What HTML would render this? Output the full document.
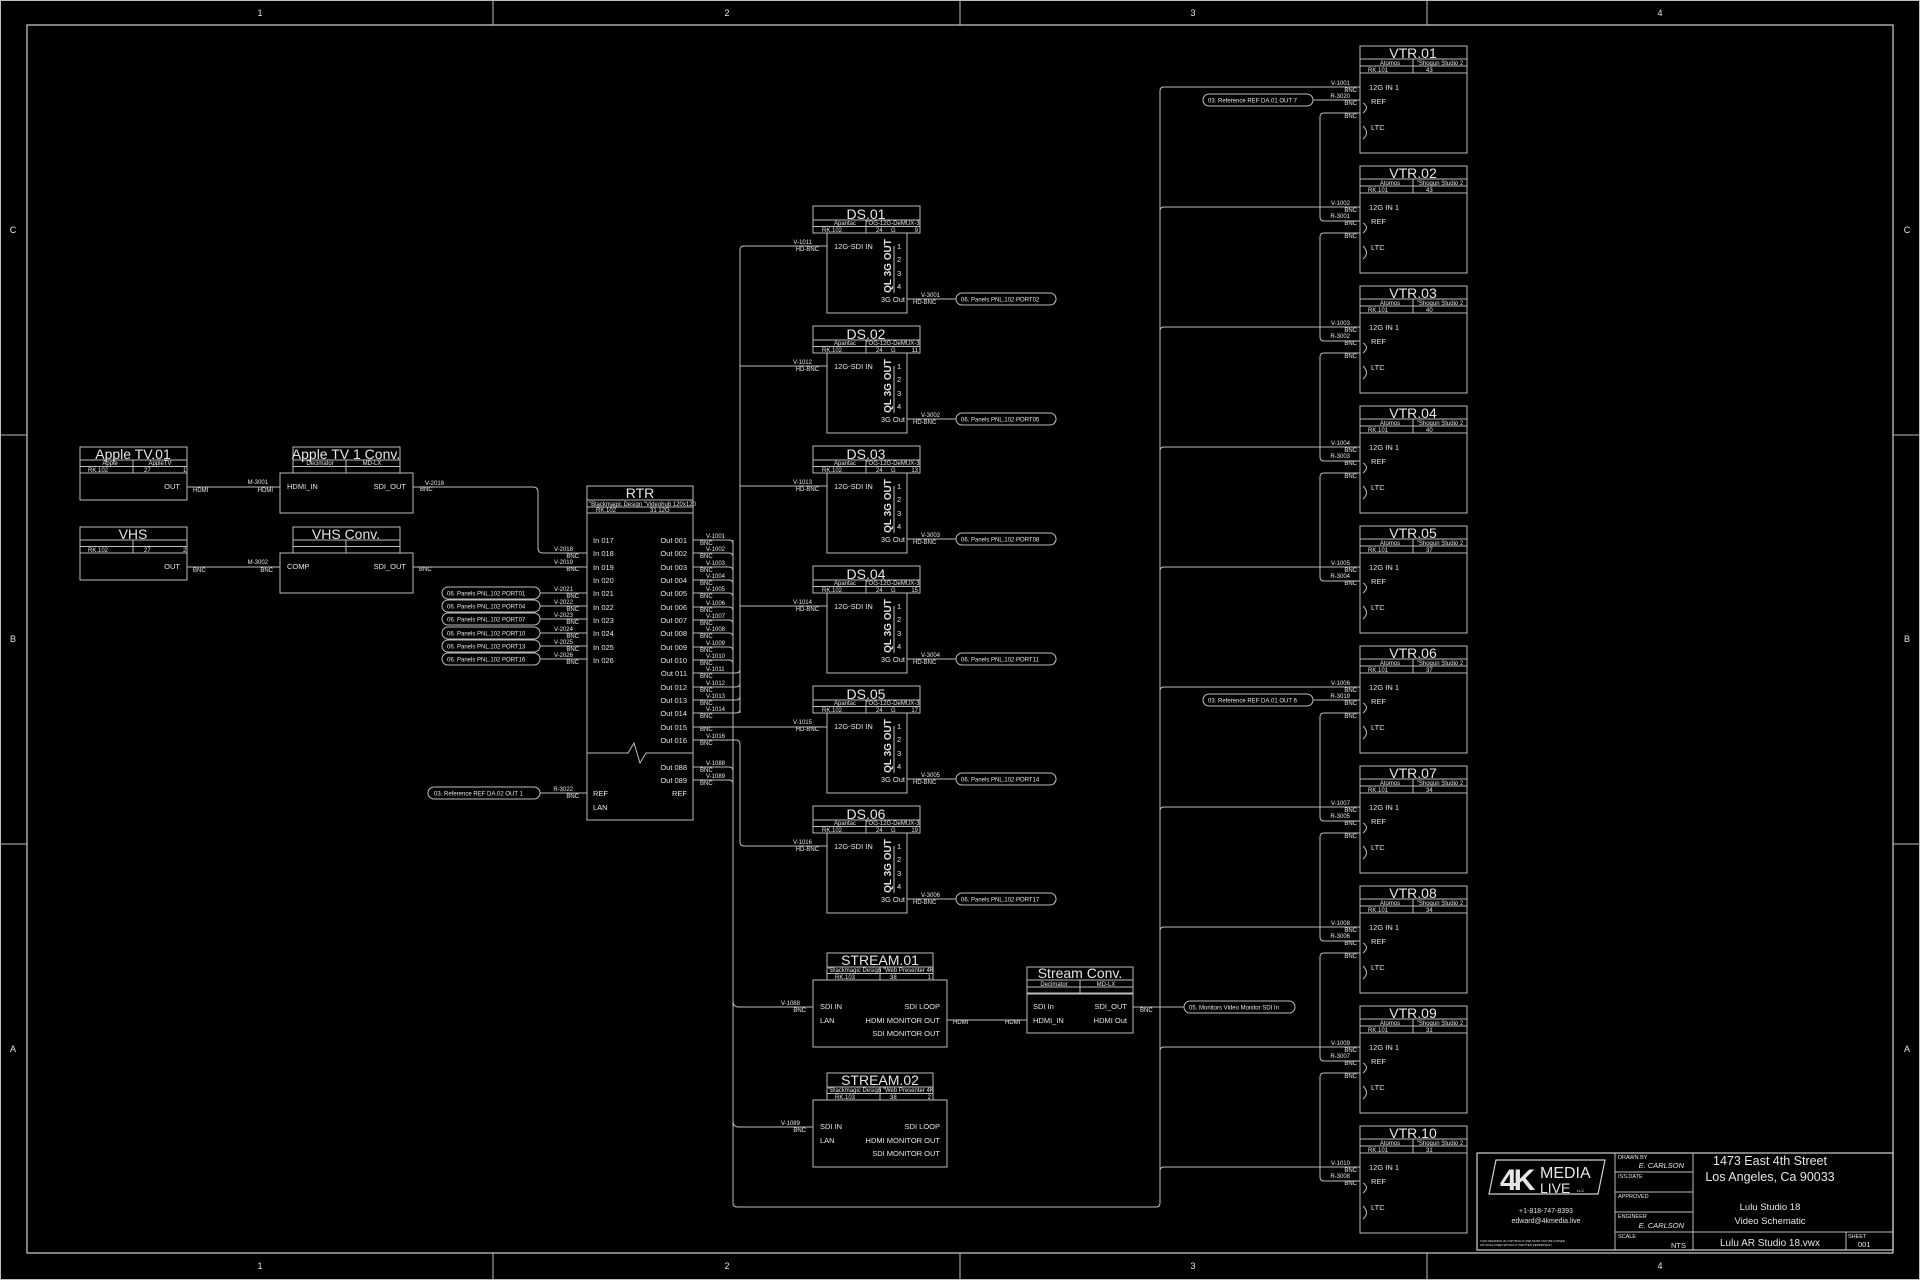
<!DOCTYPE html>
<html><head><meta charset="utf-8"><style>
html,body{margin:0;padding:0;background:#000;}
svg{display:block}
text{font-family:"Liberation Sans",sans-serif;fill:#e6e6e6}
.l{stroke:#bdbdbd;stroke-width:1;fill:none}
.b{stroke:#d0d0d0;stroke-width:1.2;fill:none}
.t{font-size:14px}
.s{font-size:7.5px}
.x{font-size:6px}
.m{font-size:5.5px}
.g{font-size:9px}
.e{text-anchor:end}
.c{text-anchor:middle}
</style></head><body>
<svg width="1920" height="1280" viewBox="0 0 1920 1280" xmlns="http://www.w3.org/2000/svg">
<rect x="0.5" y="0.5" width="1919" height="1279" class="l"/>
<rect x="27" y="25" width="1866" height="1228" class="b"/>
<path class="l" d="M493 0V25M960 0V25M1427 0V25M493 1253V1280M960 1253V1280M1427 1253V1280M0 435H27M0 844H27M1893 435H1920M1893 844H1920"/>
<text class="g c" x="260" y="16">1</text><text class="g c" x="727" y="16">2</text><text class="g c" x="1193" y="16">3</text><text class="g c" x="1660" y="16">4</text>
<text class="g c" x="260" y="1269">1</text><text class="g c" x="727" y="1269">2</text><text class="g c" x="1193" y="1269">3</text><text class="g c" x="1660" y="1269">4</text>
<text class="g c" x="13" y="233">C</text><text class="g c" x="13" y="642">B</text><text class="g c" x="13" y="1052">A</text>
<text class="g c" x="1907" y="233">C</text><text class="g c" x="1907" y="642">B</text><text class="g c" x="1907" y="1052">A</text>

<!-- Apple TV.01 -->
<rect class="l" x="80" y="447" width="107" height="53"/><path class="l" d="M80 460H187M80 466.5H187M80 473H187M133 460V473"/>
<text class="t c" x="133" y="459">Apple TV.01</text><text class="x c" x="110" y="465">Apple</text><text class="x c" x="160" y="465">AppleTV</text>
<text class="x" x="88" y="472">RK.102</text><text class="x" x="144" y="472">27</text><text class="x" x="183" y="472">1</text>
<text class="s e" x="180" y="489">OUT</text>
<path class="l" d="M187 487H280"/><text class="x" x="193" y="492">HDMI</text><text class="x e" x="268" y="484">M-3001</text><text class="x e" x="273" y="492">HDMI</text>
<!-- Apple TV 1 Conv -->
<rect class="l" x="293" y="447" width="107" height="26"/><path class="l" d="M293 460H400M293 466.5H400M346 460V473"/>
<text class="t c" x="346" y="459">Apple TV 1 Conv.</text><text class="x c" x="320" y="465">Decimator</text><text class="x c" x="372" y="465">MD-LX</text>
<rect class="l" x="280" y="473" width="133" height="40"/>
<text class="s" x="287" y="489">HDMI_IN</text><text class="s e" x="406" y="489">SDI_OUT</text>
<!-- VHS -->
<rect class="l" x="80" y="527" width="107" height="53"/><path class="l" d="M80 540H187M80 546.5H187M80 553H187M133 540V553"/>
<text class="t c" x="133" y="539">VHS</text>
<text class="x" x="88" y="552">RK.102</text><text class="x" x="144" y="552">27</text><text class="x" x="183" y="552">2</text>
<text class="s e" x="180" y="569">OUT</text>
<path class="l" d="M187 567H280"/><text class="x" x="193" y="572">BNC</text><text class="x e" x="268" y="564">M-3002</text><text class="x e" x="273" y="572">BNC</text>
<rect class="l" x="293" y="527" width="107" height="26"/><path class="l" d="M293 540H400M293 546.5H400M346 540V553"/>
<text class="t c" x="346" y="539">VHS Conv.</text>
<rect class="l" x="280" y="553" width="133" height="40"/>
<text class="s" x="287" y="569">COMP</text><text class="s e" x="406" y="569">SDI_OUT</text>

<!-- to RTR -->
<path class="l" d="M413 487H533Q538 487 538 492V548Q538 553 543 553H587M413 567H587"/>
<text class="x" x="425" y="485">V-2018</text><text class="x" x="420" y="491">BNC</text><text class="x" x="419" y="571">BNC</text>
<text class="x e" x="573" y="551">V-2018</text><text class="x e" x="579" y="558">BNC</text>
<text class="x e" x="573" y="564">V-2019</text><text class="x e" x="579" y="571">BNC</text>
<g>
<rect class="l" x="442" y="587" width="98" height="12" rx="6"/><text class="x" x="447" y="595.5">06. Panels PNL.102 PORT01</text>
<rect class="l" x="442" y="600" width="98" height="12" rx="6"/><text class="x" x="447" y="608.5">06. Panels PNL.102 PORT04</text>
<rect class="l" x="442" y="613" width="98" height="12" rx="6"/><text class="x" x="447" y="621.5">06. Panels PNL.102 PORT07</text>
<rect class="l" x="442" y="627" width="98" height="12" rx="6"/><text class="x" x="447" y="635.5">06. Panels PNL.102 PORT10</text>
<rect class="l" x="442" y="640" width="98" height="12" rx="6"/><text class="x" x="447" y="648.5">06. Panels PNL.102 PORT13</text>
<rect class="l" x="442" y="653" width="98" height="12" rx="6"/><text class="x" x="447" y="661.5">06. Panels PNL.102 PORT16</text>
<path class="l" d="M540 593H587M540 606H587M540 619H587M540 633H587M540 646H587M540 659H587"/>
<text class="x e" x="573" y="591">V-2021</text><text class="x e" x="579" y="598">BNC</text>
<text class="x e" x="573" y="604">V-2022</text><text class="x e" x="579" y="611">BNC</text>
<text class="x e" x="573" y="617">V-2023</text><text class="x e" x="579" y="624">BNC</text>
<text class="x e" x="573" y="631">V-2024</text><text class="x e" x="579" y="638">BNC</text>
<text class="x e" x="573" y="644">V-2025</text><text class="x e" x="579" y="651">BNC</text>
<text class="x e" x="573" y="657">V-2026</text><text class="x e" x="579" y="664">BNC</text>
<rect class="l" x="428" y="787" width="112" height="12" rx="6"/><text class="x" x="434" y="795.5">03. Reference REF DA.02 OUT 1</text>
<path class="l" d="M540 793H587"/><text class="x e" x="573" y="791">R-3022</text><text class="x e" x="579" y="798">BNC</text>
</g>

<!-- RTR -->
<rect class="l" x="587" y="486" width="106" height="334"/><path class="l" d="M587 500H693M587 507H693M587 513H693M587 753H628L634 743L640 763L646 753H693"/>
<text class="t c" x="640" y="498">RTR</text>
<text class="x" x="589" y="506">"Blackmagic Design "Videohub 120x120</text>
<text class="x" x="596" y="512">RK.102</text><text class="x" x="650" y="512">31 12G</text>
<g class="s">
<text x="593" y="543">In 017</text><text x="593" y="556">In 018</text><text x="593" y="570">In 019</text><text x="593" y="583">In 020</text><text x="593" y="596">In 021</text><text x="593" y="610">In 022</text><text x="593" y="623">In 023</text><text x="593" y="636">In 024</text><text x="593" y="650">In 025</text><text x="593" y="663">In 026</text>
<text class="e" x="687" y="543">Out 001</text><text class="e" x="687" y="556">Out 002</text><text class="e" x="687" y="570">Out 003</text><text class="e" x="687" y="583">Out 004</text><text class="e" x="687" y="596">Out 005</text><text class="e" x="687" y="610">Out 006</text><text class="e" x="687" y="623">Out 007</text><text class="e" x="687" y="636">Out 008</text><text class="e" x="687" y="650">Out 009</text><text class="e" x="687" y="663">Out 010</text><text class="e" x="687" y="676">Out 011</text><text class="e" x="687" y="690">Out 012</text><text class="e" x="687" y="703">Out 013</text><text class="e" x="687" y="716">Out 014</text><text class="e" x="687" y="730">Out 015</text><text class="e" x="687" y="743">Out 016</text>
<text class="e" x="687" y="770">Out 088</text><text class="e" x="687" y="783">Out 089</text>
<text x="593" y="796">REF</text><text class="e" x="687" y="796">REF</text><text x="593" y="810">LAN</text>
</g>
<!-- out bus -->
<path class="l" d="M693 540H729Q733 540 733 544M693 553H729Q733 553 733 557M693 567H729Q733 567 733 571M693 580H729Q733 580 733 584M693 593H729Q733 593 733 597M693 607H729Q733 607 733 611M693 620H729Q733 620 733 624M693 633H729Q733 633 733 637M693 647H729Q733 647 733 651M693 660H729Q733 660 733 664M693 767H729Q733 767 733 771M693 780H729Q733 780 733 784"/>
<path class="l" d="M733 540V1203Q733 1207 737 1207H1156Q1160 1207 1160 1203V91Q1160 87 1164 87"/>
<path class="l" d="M693 673H736Q740 673 740 669M693 687H736Q740 687 740 683M693 700H736Q740 700 740 696M693 713H736Q740 713 740 709M693 727H827M693 740H736Q740 740 740 744"/>
<path class="l" d="M740 713V250Q740 246 744 246H827M740 366H827M740 486H827M740 606H827M740 744V842Q740 846 744 846H827"/>
<g class="x">
<text x="706" y="538">V-1001</text><text x="700" y="545">BNC</text><text x="706" y="551">V-1002</text><text x="700" y="558">BNC</text><text x="706" y="565">V-1003</text><text x="700" y="572">BNC</text><text x="706" y="578">V-1004</text><text x="700" y="585">BNC</text><text x="706" y="591">V-1005</text><text x="700" y="598">BNC</text><text x="706" y="605">V-1006</text><text x="700" y="612">BNC</text><text x="706" y="618">V-1007</text><text x="700" y="625">BNC</text><text x="706" y="631">V-1008</text><text x="700" y="638">BNC</text><text x="706" y="645">V-1009</text><text x="700" y="652">BNC</text><text x="706" y="658">V-1010</text><text x="700" y="665">BNC</text><text x="706" y="671">V-1011</text><text x="700" y="678">BNC</text><text x="706" y="685">V-1012</text><text x="700" y="692">BNC</text><text x="706" y="698">V-1013</text><text x="700" y="705">BNC</text><text x="706" y="711">V-1014</text><text x="700" y="718">BNC</text><text x="700" y="731">BNC</text><text x="706" y="738">V-1016</text><text x="700" y="745">BNC</text>
<text x="706" y="765">V-1088</text><text x="700" y="772">BNC</text><text x="706" y="778">V-1089</text><text x="700" y="785">BNC</text>
</g>

<!-- DS blocks -->
<g id="ds1">
<rect class="l" x="813" y="206" width="107" height="27"/><path class="l" d="M813 220H920M813 226.5H920M866 220V233"/>
<text class="t c" x="866" y="219">DS.01</text><text class="x c" x="845" y="225">Apantac</text><text class="x c" x="893" y="225">"OG-12G-DeMUX-3</text>
<text class="x" x="822" y="232">RK.102</text><text class="x" x="876" y="232">24</text><text class="x" x="891" y="232">G</text><text class="x e" x="918" y="232">9</text>
<rect class="l" x="827" y="233" width="80" height="80"/>
<text class="s" x="834" y="249">12G-SDI IN</text>
<text class="c" style="font-size:10px;font-weight:bold" transform="translate(891 266) rotate(-90)">QL 3G OUT</text>
<path class="l" d="M894 246V293"/>
<text class="s" x="897" y="249">1</text><text class="s" x="897" y="262">2</text><text class="s" x="897" y="276">3</text><text class="s" x="897" y="289">4</text>
<text class="s e" x="905" y="302">3G Out</text>
<path class="l" d="M907 299H956"/><text class="x" x="921" y="297">V-3001</text><text class="x" x="913" y="304">HD-BNC</text>
<rect class="l" x="956" y="293" width="100" height="12" rx="6"/><text class="x" x="961" y="301.5">06. Panels PNL.102 PORT02</text>
<text class="x e" x="812" y="244">V-1011</text><text class="x e" x="819" y="251">HD-BNC</text>
</g>
<g>
<rect class="l" x="813" y="326" width="107" height="27"/><path class="l" d="M813 340H920M813 346.5H920M866 340V353"/>
<text class="t c" x="866" y="339">DS.02</text><text class="x c" x="845" y="345">Apantac</text><text class="x c" x="893" y="345">"OG-12G-DeMUX-3</text>
<text class="x" x="822" y="352">RK.102</text><text class="x" x="876" y="352">24</text><text class="x" x="891" y="352">G</text><text class="x e" x="918" y="352">11</text>
<rect class="l" x="827" y="353" width="80" height="80"/>
<text class="s" x="834" y="369">12G-SDI IN</text>
<text class="c" style="font-size:10px;font-weight:bold" transform="translate(891 386) rotate(-90)">QL 3G OUT</text>
<path class="l" d="M894 366V413"/>
<text class="s" x="897" y="369">1</text><text class="s" x="897" y="382">2</text><text class="s" x="897" y="396">3</text><text class="s" x="897" y="409">4</text>
<text class="s e" x="905" y="422">3G Out</text>
<path class="l" d="M907 419H956"/><text class="x" x="921" y="417">V-3002</text><text class="x" x="913" y="424">HD-BNC</text>
<rect class="l" x="956" y="413" width="100" height="12" rx="6"/><text class="x" x="961" y="421.5">06. Panels PNL.102 PORT05</text>
<text class="x e" x="812" y="364">V-1012</text><text class="x e" x="819" y="371">HD-BNC</text>
</g>
<g>
<rect class="l" x="813" y="446" width="107" height="27"/><path class="l" d="M813 460H920M813 466.5H920M866 460V473"/>
<text class="t c" x="866" y="459">DS.03</text><text class="x c" x="845" y="465">Apantac</text><text class="x c" x="893" y="465">"OG-12G-DeMUX-3</text>
<text class="x" x="822" y="472">RK.102</text><text class="x" x="876" y="472">24</text><text class="x" x="891" y="472">G</text><text class="x e" x="918" y="472">13</text>
<rect class="l" x="827" y="473" width="80" height="80"/>
<text class="s" x="834" y="489">12G-SDI IN</text>
<text class="c" style="font-size:10px;font-weight:bold" transform="translate(891 506) rotate(-90)">QL 3G OUT</text>
<path class="l" d="M894 486V533"/>
<text class="s" x="897" y="489">1</text><text class="s" x="897" y="502">2</text><text class="s" x="897" y="516">3</text><text class="s" x="897" y="529">4</text>
<text class="s e" x="905" y="542">3G Out</text>
<path class="l" d="M907 539H956"/><text class="x" x="921" y="537">V-3003</text><text class="x" x="913" y="544">HD-BNC</text>
<rect class="l" x="956" y="533" width="100" height="12" rx="6"/><text class="x" x="961" y="541.5">06. Panels PNL.102 PORT08</text>
<text class="x e" x="812" y="484">V-1013</text><text class="x e" x="819" y="491">HD-BNC</text>
</g>
<g>
<rect class="l" x="813" y="566" width="107" height="27"/><path class="l" d="M813 580H920M813 586.5H920M866 580V593"/>
<text class="t c" x="866" y="579">DS.04</text><text class="x c" x="845" y="585">Apantac</text><text class="x c" x="893" y="585">"OG-12G-DeMUX-3</text>
<text class="x" x="822" y="592">RK.102</text><text class="x" x="876" y="592">24</text><text class="x" x="891" y="592">G</text><text class="x e" x="918" y="592">15</text>
<rect class="l" x="827" y="593" width="80" height="80"/>
<text class="s" x="834" y="609">12G-SDI IN</text>
<text class="c" style="font-size:10px;font-weight:bold" transform="translate(891 626) rotate(-90)">QL 3G OUT</text>
<path class="l" d="M894 606V653"/>
<text class="s" x="897" y="609">1</text><text class="s" x="897" y="622">2</text><text class="s" x="897" y="636">3</text><text class="s" x="897" y="649">4</text>
<text class="s e" x="905" y="662">3G Out</text>
<path class="l" d="M907 659H956"/><text class="x" x="921" y="657">V-3004</text><text class="x" x="913" y="664">HD-BNC</text>
<rect class="l" x="956" y="653" width="100" height="12" rx="6"/><text class="x" x="961" y="661.5">06. Panels PNL.102 PORT11</text>
<text class="x e" x="812" y="604">V-1014</text><text class="x e" x="819" y="611">HD-BNC</text>
</g>
<g>
<rect class="l" x="813" y="686" width="107" height="27"/><path class="l" d="M813 700H920M813 706.5H920M866 700V713"/>
<text class="t c" x="866" y="699">DS.05</text><text class="x c" x="845" y="705">Apantac</text><text class="x c" x="893" y="705">"OG-12G-DeMUX-3</text>
<text class="x" x="822" y="712">RK.102</text><text class="x" x="876" y="712">24</text><text class="x" x="891" y="712">G</text><text class="x e" x="918" y="712">17</text>
<rect class="l" x="827" y="713" width="80" height="80"/>
<text class="s" x="834" y="729">12G-SDI IN</text>
<text class="c" style="font-size:10px;font-weight:bold" transform="translate(891 746) rotate(-90)">QL 3G OUT</text>
<path class="l" d="M894 726V773"/>
<text class="s" x="897" y="729">1</text><text class="s" x="897" y="742">2</text><text class="s" x="897" y="756">3</text><text class="s" x="897" y="769">4</text>
<text class="s e" x="905" y="782">3G Out</text>
<path class="l" d="M907 779H956"/><text class="x" x="921" y="777">V-3005</text><text class="x" x="913" y="784">HD-BNC</text>
<rect class="l" x="956" y="773" width="100" height="12" rx="6"/><text class="x" x="961" y="781.5">06. Panels PNL.102 PORT14</text>
<text class="x e" x="812" y="724">V-1015</text><text class="x e" x="819" y="731">HD-BNC</text>
</g>
<g>
<rect class="l" x="813" y="806" width="107" height="27"/><path class="l" d="M813 820H920M813 826.5H920M866 820V833"/>
<text class="t c" x="866" y="819">DS.06</text><text class="x c" x="845" y="825">Apantac</text><text class="x c" x="893" y="825">"OG-12G-DeMUX-3</text>
<text class="x" x="822" y="832">RK.102</text><text class="x" x="876" y="832">24</text><text class="x" x="891" y="832">G</text><text class="x e" x="918" y="832">19</text>
<rect class="l" x="827" y="833" width="80" height="80"/>
<text class="s" x="834" y="849">12G-SDI IN</text>
<text class="c" style="font-size:10px;font-weight:bold" transform="translate(891 866) rotate(-90)">QL 3G OUT</text>
<path class="l" d="M894 846V893"/>
<text class="s" x="897" y="849">1</text><text class="s" x="897" y="862">2</text><text class="s" x="897" y="876">3</text><text class="s" x="897" y="889">4</text>
<text class="s e" x="905" y="902">3G Out</text>
<path class="l" d="M907 899H956"/><text class="x" x="921" y="897">V-3006</text><text class="x" x="913" y="904">HD-BNC</text>
<rect class="l" x="956" y="893" width="100" height="12" rx="6"/><text class="x" x="961" y="901.5">06. Panels PNL.102 PORT17</text>
<text class="x e" x="812" y="844">V-1016</text><text class="x e" x="819" y="851">HD-BNC</text>
</g>

<!-- STREAM -->
<path class="l" d="M733 1001Q733 1007 739 1007H813M733 1121Q733 1127 739 1127H813"/>
<text class="x e" x="800" y="1005">V-1088</text><text class="x e" x="806" y="1012">BNC</text>
<text class="x e" x="800" y="1125">V-1089</text><text class="x e" x="806" y="1132">BNC</text>
<rect class="l" x="827" y="953" width="106" height="27"/><path class="l" d="M827 967H933M827 973.5H933M880 967V980"/>
<text class="t c" x="880" y="965">STREAM.01</text><text class="x" x="828" y="972">"Blackmagic Design "Web Presenter 4K</text>
<text class="x" x="835" y="979">RK.103</text><text class="x" x="890" y="979">38</text><text class="x e" x="931" y="979">1</text>
<rect class="l" x="813" y="980" width="134" height="67"/>
<text class="s" x="820" y="1009">SDI IN</text><text class="s e" x="940" y="1009">SDI LOOP</text>
<text class="s" x="820" y="1023">LAN</text><text class="s e" x="940" y="1023">HDMI MONITOR OUT</text>
<text class="s e" x="940" y="1036">SDI MONITOR OUT</text>
<rect class="l" x="827" y="1073" width="106" height="27"/><path class="l" d="M827 1087H933M827 1093.5H933M880 1087V1100"/>
<text class="t c" x="880" y="1085">STREAM.02</text><text class="x" x="828" y="1092">"Blackmagic Design "Web Presenter 4K</text>
<text class="x" x="835" y="1099">RK.103</text><text class="x" x="890" y="1099">38</text><text class="x e" x="931" y="1099">2</text>
<rect class="l" x="813" y="1100" width="134" height="67"/>
<text class="s" x="820" y="1129">SDI IN</text><text class="s e" x="940" y="1129">SDI LOOP</text>
<text class="s" x="820" y="1143">LAN</text><text class="s e" x="940" y="1143">HDMI MONITOR OUT</text>
<text class="s e" x="940" y="1156">SDI MONITOR OUT</text>
<path class="l" d="M947 1020H1027"/><text class="x" x="953" y="1024">HDMI</text><text class="x" x="1005" y="1024">HDMI</text>
<rect class="l" x="1027" y="967" width="106" height="27"/><path class="l" d="M1027 980H1133M1027 987H1133M1080 980V993"/>
<text class="t c" x="1080" y="978">Stream Conv.</text><text class="x c" x="1054" y="986">Decimator</text><text class="x c" x="1106" y="986">MD-LX</text>
<rect class="l" x="1027" y="993" width="106" height="40"/>
<text class="s" x="1033" y="1009">SDI In</text><text class="s e" x="1127" y="1009">SDI_OUT</text>
<text class="s" x="1033" y="1023">HDMI_IN</text><text class="s e" x="1127" y="1023">HDMI Out</text>
<path class="l" d="M1133 1007H1184"/><text class="x" x="1140" y="1012">BNC</text>
<rect class="l" x="1184" y="1001" width="111" height="12" rx="6"/><text class="x" x="1189" y="1009.5">05. Monitors Video Monitor SDI In</text>

<!-- VTR blocks -->
<g>
<rect class="l" x="1360" y="46" width="107" height="107"/><path class="l" d="M1360 59H1467M1360 66H1467M1360 73H1467M1413 59V73"/>
<text class="t c" x="1413" y="58">VTR.01</text><text class="x c" x="1390" y="65">Atomos</text><text class="x c" x="1440" y="65">"Shogun Studio 2</text>
<text class="x" x="1368" y="72">RK.101</text><text class="x" x="1426" y="72">43</text>
<text class="s" x="1369" y="90">12G IN 1</text><text class="s" x="1371" y="104">REF</text><text class="s" x="1371" y="130">LTC</text>
<path class="l" d="M1363 103Q1370 107 1363 113M1363 126Q1370 133 1363 139"/>
<path class="l" d="M1164 87H1360M1313 100H1360M1360 113H1324Q1320 113 1320 117V217Q1320 221 1324 221H1360"/>
<text class="x e" x="1350" y="85">V-1001</text><text class="x e" x="1357" y="92">BNC</text><text class="x e" x="1350" y="98">R-3020</text><text class="x e" x="1357" y="105">BNC</text><text class="x e" x="1357" y="118">BNC</text>
<rect class="l" x="1203" y="94" width="110" height="12" rx="6"/><text class="x" x="1208" y="102.5">03. Reference REF DA.01 OUT 7</text>
</g>
<g>
<rect class="l" x="1360" y="166" width="107" height="107"/><path class="l" d="M1360 179H1467M1360 186H1467M1360 193H1467M1413 179V193"/>
<text class="t c" x="1413" y="178">VTR.02</text><text class="x c" x="1390" y="185">Atomos</text><text class="x c" x="1440" y="185">"Shogun Studio 2</text>
<text class="x" x="1368" y="192">RK.101</text><text class="x" x="1426" y="192">43</text>
<text class="s" x="1369" y="210">12G IN 1</text><text class="s" x="1371" y="224">REF</text><text class="s" x="1371" y="250">LTC</text>
<path class="l" d="M1363 223Q1370 227 1363 233M1363 246Q1370 253 1363 259"/>
<path class="l" d="M1160 211Q1160 207 1164 207H1360M1360 233H1324Q1320 233 1320 237V337Q1320 341 1324 341H1360"/>
<text class="x e" x="1350" y="205">V-1002</text><text class="x e" x="1357" y="212">BNC</text><text class="x e" x="1350" y="218">R-3001</text><text class="x e" x="1357" y="225">BNC</text><text class="x e" x="1357" y="238">BNC</text>
</g>
<g>
<rect class="l" x="1360" y="286" width="107" height="107"/><path class="l" d="M1360 299H1467M1360 306H1467M1360 313H1467M1413 299V313"/>
<text class="t c" x="1413" y="298">VTR.03</text><text class="x c" x="1390" y="305">Atomos</text><text class="x c" x="1440" y="305">"Shogun Studio 2</text>
<text class="x" x="1368" y="312">RK.101</text><text class="x" x="1426" y="312">40</text>
<text class="s" x="1369" y="330">12G IN 1</text><text class="s" x="1371" y="344">REF</text><text class="s" x="1371" y="370">LTC</text>
<path class="l" d="M1363 343Q1370 347 1363 353M1363 366Q1370 373 1363 379"/>
<path class="l" d="M1160 331Q1160 327 1164 327H1360M1360 353H1324Q1320 353 1320 357V457Q1320 461 1324 461H1360"/>
<text class="x e" x="1350" y="325">V-1003</text><text class="x e" x="1357" y="332">BNC</text><text class="x e" x="1350" y="338">R-3002</text><text class="x e" x="1357" y="345">BNC</text><text class="x e" x="1357" y="358">BNC</text>
</g>
<g>
<rect class="l" x="1360" y="406" width="107" height="107"/><path class="l" d="M1360 419H1467M1360 426H1467M1360 433H1467M1413 419V433"/>
<text class="t c" x="1413" y="418">VTR.04</text><text class="x c" x="1390" y="425">Atomos</text><text class="x c" x="1440" y="425">"Shogun Studio 2</text>
<text class="x" x="1368" y="432">RK.101</text><text class="x" x="1426" y="432">40</text>
<text class="s" x="1369" y="450">12G IN 1</text><text class="s" x="1371" y="464">REF</text><text class="s" x="1371" y="490">LTC</text>
<path class="l" d="M1363 463Q1370 467 1363 473M1363 486Q1370 493 1363 499"/>
<path class="l" d="M1160 451Q1160 447 1164 447H1360M1360 473H1324Q1320 473 1320 477V577Q1320 581 1324 581H1360"/>
<text class="x e" x="1350" y="445">V-1004</text><text class="x e" x="1357" y="452">BNC</text><text class="x e" x="1350" y="458">R-3003</text><text class="x e" x="1357" y="465">BNC</text><text class="x e" x="1357" y="478">BNC</text>
</g>
<g>
<rect class="l" x="1360" y="526" width="107" height="107"/><path class="l" d="M1360 539H1467M1360 546H1467M1360 553H1467M1413 539V553"/>
<text class="t c" x="1413" y="538">VTR.05</text><text class="x c" x="1390" y="545">Atomos</text><text class="x c" x="1440" y="545">"Shogun Studio 2</text>
<text class="x" x="1368" y="552">RK.101</text><text class="x" x="1426" y="552">37</text>
<text class="s" x="1369" y="570">12G IN 1</text><text class="s" x="1371" y="584">REF</text><text class="s" x="1371" y="610">LTC</text>
<path class="l" d="M1363 583Q1370 587 1363 593M1363 606Q1370 613 1363 619"/>
<path class="l" d="M1160 571Q1160 567 1164 567H1360"/>
<text class="x e" x="1350" y="565">V-1005</text><text class="x e" x="1357" y="572">BNC</text><text class="x e" x="1350" y="578">R-3004</text><text class="x e" x="1357" y="585">BNC</text>
</g>
<g>
<rect class="l" x="1360" y="646" width="107" height="107"/><path class="l" d="M1360 659H1467M1360 666H1467M1360 673H1467M1413 659V673"/>
<text class="t c" x="1413" y="658">VTR.06</text><text class="x c" x="1390" y="665">Atomos</text><text class="x c" x="1440" y="665">"Shogun Studio 2</text>
<text class="x" x="1368" y="672">RK.101</text><text class="x" x="1426" y="672">37</text>
<text class="s" x="1369" y="690">12G IN 1</text><text class="s" x="1371" y="704">REF</text><text class="s" x="1371" y="730">LTC</text>
<path class="l" d="M1363 703Q1370 707 1363 713M1363 726Q1370 733 1363 739"/>
<path class="l" d="M1160 691Q1160 687 1164 687H1360M1313 700H1360M1360 713H1324Q1320 713 1320 717V817Q1320 821 1324 821H1360"/>
<text class="x e" x="1350" y="685">V-1006</text><text class="x e" x="1357" y="692">BNC</text><text class="x e" x="1350" y="698">R-3019</text><text class="x e" x="1357" y="705">BNC</text><text class="x e" x="1357" y="718">BNC</text>
<rect class="l" x="1203" y="694" width="110" height="12" rx="6"/><text class="x" x="1208" y="702.5">03. Reference REF DA.01 OUT 6</text>
</g>
<g>
<rect class="l" x="1360" y="766" width="107" height="107"/><path class="l" d="M1360 779H1467M1360 786H1467M1360 793H1467M1413 779V793"/>
<text class="t c" x="1413" y="778">VTR.07</text><text class="x c" x="1390" y="785">Atomos</text><text class="x c" x="1440" y="785">"Shogun Studio 2</text>
<text class="x" x="1368" y="792">RK.101</text><text class="x" x="1426" y="792">34</text>
<text class="s" x="1369" y="810">12G IN 1</text><text class="s" x="1371" y="824">REF</text><text class="s" x="1371" y="850">LTC</text>
<path class="l" d="M1363 823Q1370 827 1363 833M1363 846Q1370 853 1363 859"/>
<path class="l" d="M1160 811Q1160 807 1164 807H1360M1360 833H1324Q1320 833 1320 837V937Q1320 941 1324 941H1360"/>
<text class="x e" x="1350" y="805">V-1007</text><text class="x e" x="1357" y="812">BNC</text><text class="x e" x="1350" y="818">R-3005</text><text class="x e" x="1357" y="825">BNC</text><text class="x e" x="1357" y="838">BNC</text>
</g>
<g>
<rect class="l" x="1360" y="886" width="107" height="107"/><path class="l" d="M1360 899H1467M1360 906H1467M1360 913H1467M1413 899V913"/>
<text class="t c" x="1413" y="898">VTR.08</text><text class="x c" x="1390" y="905">Atomos</text><text class="x c" x="1440" y="905">"Shogun Studio 2</text>
<text class="x" x="1368" y="912">RK.101</text><text class="x" x="1426" y="912">34</text>
<text class="s" x="1369" y="930">12G IN 1</text><text class="s" x="1371" y="944">REF</text><text class="s" x="1371" y="970">LTC</text>
<path class="l" d="M1363 943Q1370 947 1363 953M1363 966Q1370 973 1363 979"/>
<path class="l" d="M1160 931Q1160 927 1164 927H1360M1360 953H1324Q1320 953 1320 957V1057Q1320 1061 1324 1061H1360"/>
<text class="x e" x="1350" y="925">V-1008</text><text class="x e" x="1357" y="932">BNC</text><text class="x e" x="1350" y="938">R-3006</text><text class="x e" x="1357" y="945">BNC</text><text class="x e" x="1357" y="958">BNC</text>
</g>
<g>
<rect class="l" x="1360" y="1006" width="107" height="107"/><path class="l" d="M1360 1019H1467M1360 1026H1467M1360 1033H1467M1413 1019V1033"/>
<text class="t c" x="1413" y="1018">VTR.09</text><text class="x c" x="1390" y="1025">Atomos</text><text class="x c" x="1440" y="1025">"Shogun Studio 2</text>
<text class="x" x="1368" y="1032">RK.101</text><text class="x" x="1426" y="1032">31</text>
<text class="s" x="1369" y="1050">12G IN 1</text><text class="s" x="1371" y="1064">REF</text><text class="s" x="1371" y="1090">LTC</text>
<path class="l" d="M1363 1063Q1370 1067 1363 1073M1363 1086Q1370 1093 1363 1099"/>
<path class="l" d="M1160 1051Q1160 1047 1164 1047H1360M1360 1073H1324Q1320 1073 1320 1077V1177Q1320 1181 1324 1181H1360"/>
<text class="x e" x="1350" y="1045">V-1009</text><text class="x e" x="1357" y="1052">BNC</text><text class="x e" x="1350" y="1058">R-3007</text><text class="x e" x="1357" y="1065">BNC</text><text class="x e" x="1357" y="1078">BNC</text>
</g>
<g>
<rect class="l" x="1360" y="1126" width="107" height="107"/><path class="l" d="M1360 1139H1467M1360 1146H1467M1360 1153H1467M1413 1139V1153"/>
<text class="t c" x="1413" y="1138">VTR.10</text><text class="x c" x="1390" y="1145">Atomos</text><text class="x c" x="1440" y="1145">"Shogun Studio 2</text>
<text class="x" x="1368" y="1152">RK.101</text><text class="x" x="1426" y="1152">31</text>
<text class="s" x="1369" y="1170">12G IN 1</text><text class="s" x="1371" y="1184">REF</text><text class="s" x="1371" y="1210">LTC</text>
<path class="l" d="M1363 1183Q1370 1187 1363 1193M1363 1206Q1370 1213 1363 1219"/>
<path class="l" d="M1160 1171Q1160 1167 1164 1167H1360"/>
<text class="x e" x="1350" y="1165">V-1010</text><text class="x e" x="1357" y="1172">BNC</text><text class="x e" x="1350" y="1178">R-3008</text><text class="x e" x="1357" y="1185">BNC</text>
</g>

<!-- title block -->
<rect class="b" x="1477" y="1153" width="416" height="97"/>
<path class="l" d="M1615 1153V1250M1693 1153V1250M1615 1172H1693M1615 1192H1693M1615 1212H1693M1615 1232H1893M1846 1232V1250"/>
<path class="b" d="M1496 1160H1605L1598 1194H1489Z"/>
<text x="1500" y="1190" style="font-size:30px;font-weight:bold;letter-spacing:-3px">4K</text>
<text x="1540" y="1178" style="font-size:16px">MEDIA</text><text x="1540" y="1193" style="font-size:14px">LIVE</text><text x="1577" y="1192" style="font-size:4px">LLC</text>
<text class="c" x="1546" y="1213" style="font-size:7px">+1-818-747-8393</text>
<text class="c" x="1546" y="1223" style="font-size:7px">edward@4kmedia.live</text>
<text x="1480" y="1242" style="font-size:3px">THIS DRAWING IS COPYRIGHT AND MUST NOT BE COPIED</text>
<text x="1480" y="1246" style="font-size:3px">OR DISCLOSED WITHOUT WRITTEN PERMISSION</text>
<text class="m" x="1618" y="1159">DRAWN BY</text><text class="s e" x="1684" y="1168" style="font-style:italic">E. CARLSON</text>
<text class="m" x="1618" y="1178">ISS.DATE</text>
<text class="m" x="1618" y="1198">APPROVED</text>
<text class="m" x="1618" y="1218">ENGINEER</text><text class="s e" x="1684" y="1228" style="font-style:italic">E. CARLSON</text>
<text class="m" x="1618" y="1238">SCALE</text><text class="s e" x="1686" y="1248">NTS</text>
<text class="c" x="1770" y="1165" style="font-size:12.5px">1473 East 4th Street</text>
<text class="c" x="1770" y="1181" style="font-size:12.5px">Los Angeles, Ca 90033</text>
<text class="c" x="1770" y="1210" style="font-size:9.5px">Lulu Studio 18</text>
<text class="c" x="1770" y="1224" style="font-size:9.5px">Video Schematic</text>
<text class="c" x="1770" y="1246" style="font-size:10px">Lulu AR Studio 18.vwx</text>
<text class="m" x="1848" y="1238">SHEET</text><text class="s" x="1858" y="1247">001</text>
</svg>
</body></html>
